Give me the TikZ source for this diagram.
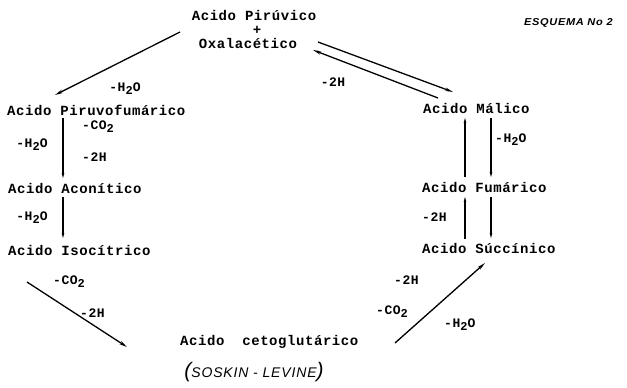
\documentclass[tikz,border=0pt]{standalone}
\usepackage{fontspec}
\usetikzlibrary{arrows.meta}
\newfontfamily\tw[LetterSpace=4]{Liberation Mono}
\newfontfamily\hand[LetterSpace=6]{Liberation Sans}
\newcommand{\mysub}[1]{\raisebox{-3pt}{\fontsize{12}{12}\selectfont #1}}
\tikzset{
  txt/.style={inner sep=0pt, font=\tw\bfseries\fontsize{14}{14}\selectfont},
  lbl/.style={inner sep=0pt, font=\tw\bfseries\fontsize{13}{13}\selectfont},
  big/.style={line width=1.3pt, -{Stealth[length=8pt,width=3.4pt]}},
  small/.style={line width=1.2pt, -{Stealth[length=5pt,width=2.6pt]}},
}
\begin{document}
\begin{tikzpicture}[x=1pt,y=-1pt]
\useasboundingbox (0,0) rectangle (627,388);
% nodes
\node[txt] (pir) at (254,15) {Acido Pirúvico};
\node[txt] (plus) at (257,30) {+};
\node[txt] (oxa) at (248,43) {Oxalacético};
\node[txt,anchor=west] (piru) at (7,110) {Acido Piruvofumárico};
\node[txt,anchor=west] (acon) at (8,188) {Acido Aconítico};
\node[txt,anchor=west] (iso) at (8,250) {Acido Isocítrico};
\node[txt,anchor=west] (ceto) at (180,342) {Acido~~cetoglutárico};
\node[txt,anchor=west] (mal) at (423,108) {Acido Málico};
\node[txt,anchor=west] (fum) at (422,187) {Acido Fumárico};
\node[txt,anchor=west] (suc) at (422,248) {Acido Súccínico};
\node[inner sep=0pt,anchor=west,font=\hand\bfseries\itshape\fontsize{10}{10}\selectfont] (esq) at (524,23) {\scalebox{1.1}[1]{ESQUEMA No 2}};
\node[inner sep=0pt,font=\hand\itshape\fontsize{14}{14}\selectfont] (sos) at (254,372) {\scalebox{1.5}{(}SOSKIN - LEVINE\scalebox{1.5}{)}};
% endpoints
\coordinate (a1) at (180,32); \coordinate (a2) at (55,95);
\coordinate (b1) at (318,42); \coordinate (b2) at (453,92);
\coordinate (c1) at (438,98); \coordinate (c2) at (313,50);
\coordinate (d1) at (63,118); \coordinate (d2) at (63,178);
\coordinate (e1) at (63,197); \coordinate (e2) at (63,238);
\coordinate (f1) at (27,282); \coordinate (f2) at (127,347);
\coordinate (g1) at (395,343); \coordinate (g2) at (485,263);
\coordinate (h1) at (465,177); \coordinate (h2) at (465,118);
\coordinate (i1) at (491,118); \coordinate (i2) at (491,177);
\coordinate (j1) at (465,239); \coordinate (j2) at (465,197);
\coordinate (k1) at (491,197); \coordinate (k2) at (491,238);
% connectors
\draw[big] (a1) -- (a2);
\draw[big] (b1) -- (b2);
\draw[big] (c1) -- (c2);
\draw[small] (d1) -- (d2);
\draw[small] (e1) -- (e2);
\draw[big] (f1) -- (f2);
\draw[big] (g1) -- (g2);
\draw[small] (h1) -- (h2);
\draw[small] (i1) -- (i2);
\draw[small] (j1) -- (j2);
\draw[small] (k1) -- (k2);
% labels
\node[lbl] (l1) at (125,89) {-H\mysub{2}O};
\node[lbl] (l2) at (333,82) {-2H};
\node[lbl] (l3) at (32,145) {-H\mysub{2}O};
\node[lbl,anchor=west] (l4) at (82,127) {-CO\mysub{2}};
\node[lbl,anchor=west] (l5) at (82,157) {-2H};
\node[lbl] (l6) at (32,218) {-H\mysub{2}O};
\node[lbl,anchor=west] (l7) at (53,282) {-CO\mysub{2}};
\node[lbl,anchor=west] (l8) at (80,313) {-2H};
\node[lbl,anchor=west] (l9) at (394,280) {-2H};
\node[lbl,anchor=west] (l10) at (376,312) {-CO\mysub{2}};
\node[lbl,anchor=west] (l11) at (444,325) {-H\mysub{2}O};
\node[lbl,anchor=west] (l12) at (422,217) {-2H};
\node[lbl,anchor=west] (l13) at (495,140) {-H\mysub{2}O};
\end{tikzpicture}
\end{document}
